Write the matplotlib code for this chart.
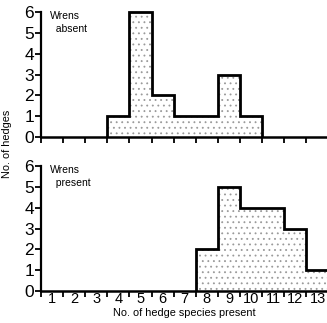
import numpy as np
import matplotlib
matplotlib.use("Agg")
import matplotlib.pyplot as plt

plt.rcParams['font.family'] = ['Liberation Sans', 'DejaVu Sans']
plt.rcParams['hatch.linewidth'] = 0.6
plt.rcParams['hatch.color'] = '#9a9a9a'

# hedge species count (bin centres) and number of hedges per bin
species = [1, 2, 3, 4, 5, 6, 7, 8, 9, 10, 11, 12, 13]
wrens_absent = [0, 0, 0, 1, 6, 2, 1, 1, 3, 1, 0, 0, 0]
wrens_present = [0, 0, 0, 0, 0, 0, 0, 2, 5, 4, 4, 3, 1]
panel_labels = ["Wrens\n  absent", "Wrens\n  present"]

edges = np.append(np.array(species) - 0.5, species[-1] + 0.5)

fig = plt.figure(figsize=(3.27, 3.23), dpi=100)
ax_top = fig.add_axes([0.125, 0.576, 0.88, 0.393])
ax_bot = fig.add_axes([0.125, 0.099, 0.88, 0.393])


def draw_panel(ax, counts, label, show_xlabels):
    counts = np.array(counts, dtype=float)
    nz = np.nonzero(counts)[0]
    lo, hi = nz[0], nz[-1] + 1
    ax.stairs(counts[lo:hi], edges[lo:hi + 1], fill=True, facecolor='none',
              hatch='...', linewidth=0)
    ax.stairs(counts[lo:hi], edges[lo:hi + 1], baseline=0, color='black',
              linewidth=2.0)
    ax.set_xlim(0.5, 13.5)
    ax.set_ylim(0, 6.1)
    for s in ['top', 'right']:
        ax.spines[s].set_visible(False)
    ax.spines['left'].set_linewidth(1.6)
    ax.spines['bottom'].set_linewidth(1.8)
    ax.spines['left'].set_bounds(0, 6)
    ax.set_yticks(range(0, 7))
    ax.tick_params(axis='y', direction='out', length=4, width=1.3,
                   labelsize=12.5, pad=1)
    ax.set_xticks(edges[:-1])
    ax.tick_params(axis='x', which='major', direction='out', length=4,
                   width=1.3, labelbottom=False)
    if show_xlabels:
        ax.set_xticks(species, minor=True)
        ax.set_xticklabels([str(s) for s in species], minor=True)
        ax.tick_params(axis='x', which='minor', length=0, labelsize=10.5, pad=1)
    ax.text(0.03, 0.99, label, transform=ax.transAxes, fontsize=7.5,
            va='top', ha='left', linespacing=1.3)


draw_panel(ax_top, wrens_absent, panel_labels[0], False)
draw_panel(ax_bot, wrens_present, panel_labels[1], True)

ax_bot.set_xlabel("No. of hedge species present", fontsize=7.8, labelpad=1)
fig.text(0.022, 0.555, "No. of hedges", rotation=90, fontsize=7.8,
         va='center', ha='center')

fig.savefig("out.png", dpi=100)
